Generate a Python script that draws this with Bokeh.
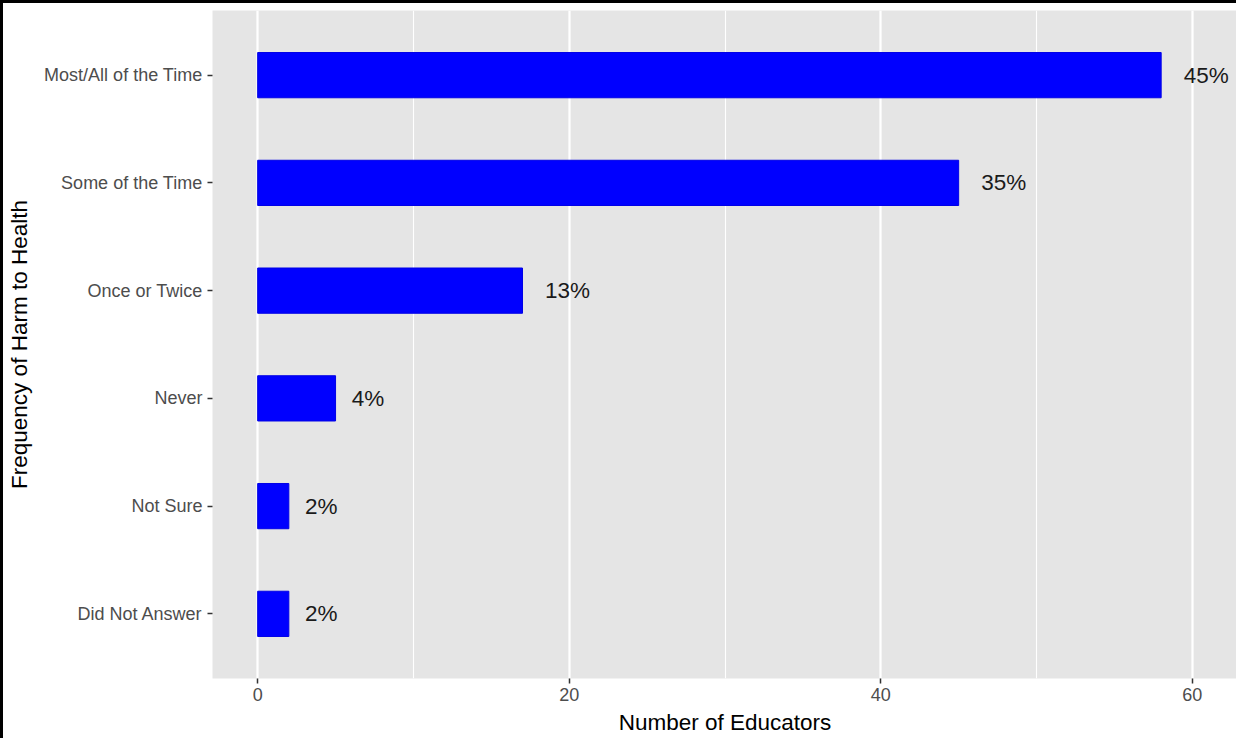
from bokeh.plotting import figure
from bokeh.models import Range1d, FixedTicker, ColumnDataSource
from bokeh.embed import file_html
from bokeh.resources import INLINE
from bokeh.core.properties import value

# ---- data ----
categories = ["Did Not Answer", "Not Sure", "Never", "Once or Twice",
              "Some of the Time", "Most/All of the Time"]
counts = [2, 2, 5, 17, 45, 58]
pct_labels = ["2%", "2%", "4%", "13%", "35%", "45%"]
x_ticks = [0, 20, 40, 60]
x_minor_ticks = [10, 30, 50]

FONT = "Liberation Sans"
LABEL_PX = 22.5
CHAR_EM = {"%": 0.889}


def text_width(s):
    return sum(CHAR_EM.get(c, 0.556) for c in s) * LABEL_PX


positions = list(range(1, len(categories) + 1))
source = ColumnDataSource(dict(
    y=positions,
    count=counts,
    label=pct_labels,
    xoff=[0.5 * text_width(s) for s in pct_labels],  # ggplot hjust = -0.5
))

p = figure(width=1236, height=738,
           x_range=Range1d(-2.9, 62.9), y_range=Range1d(0.4, 6.6),
           output_backend="svg", toolbar_location=None,
           min_border_left=209, min_border_right=2,
           min_border_top=7, min_border_bottom=63,
           background_fill_color="#E5E5E5", border_fill_color="white",
           outline_line_color=None)
p.styles = {"border-left": "3px solid black", "border-top": "3px solid black"}

p.hbar(y="y", left=0, right="count", height=0.42, source=source,
       fill_color="#0000FF", line_color="#0000E6", line_width=1)
p.text(x="count", y="y", text="label", x_offset="xoff", source=source,
       text_align="left", text_baseline="middle",
       text_font=value(FONT), text_font_size="22.5px", text_color="#1A1A1A")

p.xaxis.ticker = FixedTicker(ticks=x_ticks, minor_ticks=x_minor_ticks)
p.yaxis.ticker = FixedTicker(ticks=positions)
p.yaxis.major_label_overrides = {pos: cat for pos, cat in zip(positions, categories)}

p.xgrid.grid_line_color = "white"
p.xgrid.grid_line_width = 2.2
p.xgrid.minor_grid_line_color = "white"
p.xgrid.minor_grid_line_width = 1.1
p.ygrid.grid_line_color = None

for ax in (p.xaxis, p.yaxis):
    ax.axis_line_color = None
    ax.major_tick_line_color = "#333333"
    ax.major_tick_line_width = 1.5
    ax.major_tick_in = 0
    ax.major_tick_out = 5
    ax.minor_tick_line_color = None
    ax.major_label_text_color = "#4D4D4D"
    ax.major_label_text_font = FONT
    ax.major_label_text_font_size = "18px"
    ax.axis_label_text_font = FONT
    ax.axis_label_text_font_size = "22.5px"
    ax.axis_label_text_font_style = "normal"
    ax.axis_label_text_color = "black"

p.xaxis.axis_label = "Number of Educators"
p.yaxis.axis_label = "Frequency of Harm to Health"
p.xaxis.major_label_standoff = 4
p.xaxis.axis_label_standoff = 6
p.yaxis.major_label_standoff = 5
p.yaxis.axis_label_standoff = 9

open("out.html", "w").write(file_html(p, INLINE, title="Frequency of Harm to Health"))
